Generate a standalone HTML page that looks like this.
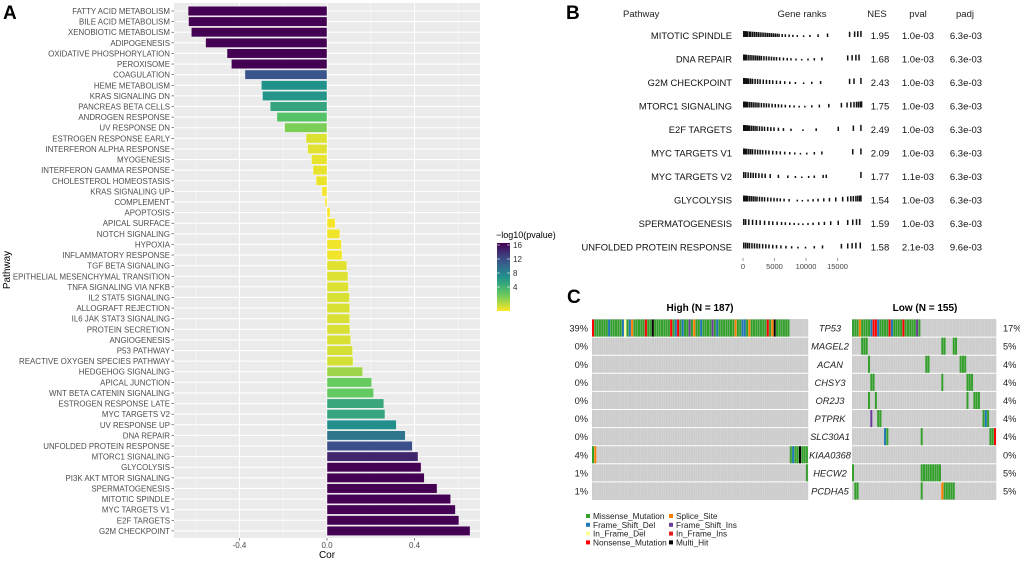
<!DOCTYPE html>
<html><head><meta charset="utf-8"><style>
html,body{margin:0;padding:0;background:#fff;}
svg{display:block;font-family:"Liberation Sans",sans-serif;}
</style></head><body>
<svg id="fig" width="1020" height="561" viewBox="0 0 1020 561"></svg>
<script>
// ---- Panel A data ----
const pathwaysA=["FATTY ACID METABOLISM","BILE ACID METABOLISM","XENOBIOTIC METABOLISM","ADIPOGENESIS","OXIDATIVE PHOSPHORYLATION","PEROXISOME","COAGULATION","HEME METABOLISM","KRAS SIGNALING DN","PANCREAS BETA CELLS","ANDROGEN RESPONSE","UV RESPONSE DN","ESTROGEN RESPONSE EARLY","INTERFERON ALPHA RESPONSE","MYOGENESIS","INTERFERON GAMMA RESPONSE","CHOLESTEROL HOMEOSTASIS","KRAS SIGNALING UP","COMPLEMENT","APOPTOSIS","APICAL SURFACE","NOTCH SIGNALING","HYPOXIA","INFLAMMATORY RESPONSE","TGF BETA SIGNALING","EPITHELIAL MESENCHYMAL TRANSITION","TNFA SIGNALING VIA NFKB","IL2 STAT5 SIGNALING","ALLOGRAFT REJECTION","IL6 JAK STAT3 SIGNALING","PROTEIN SECRETION","ANGIOGENESIS","P53 PATHWAY","REACTIVE OXYGEN SPECIES PATHWAY","HEDGEHOG SIGNALING","APICAL JUNCTION","WNT BETA CATENIN SIGNALING","ESTROGEN RESPONSE LATE","MYC TARGETS V2","UV RESPONSE UP","DNA REPAIR","UNFOLDED PROTEIN RESPONSE","MTORC1 SIGNALING","GLYCOLYSIS","PI3K AKT MTOR SIGNALING","SPERMATOGENESIS","MITOTIC SPINDLE","MYC TARGETS V1","E2F TARGETS","G2M CHECKPOINT"];
const corA=[-0.635,-0.633,-0.62,-0.555,-0.457,-0.437,-0.375,-0.30,-0.295,-0.26,-0.229,-0.194,-0.096,-0.089,-0.071,-0.064,-0.05,-0.023,-0.009,0.014,0.037,0.059,0.066,0.069,0.091,0.096,0.098,0.103,0.104,0.104,0.105,0.108,0.117,0.119,0.163,0.204,0.213,0.26,0.265,0.317,0.358,0.39,0.416,0.43,0.445,0.503,0.565,0.587,0.603,0.654];
const logpA=[16.5,16.5,16.5,16.5,16.5,16.5,12.5,8.9,8.6,7.6,5.6,4.4,2.1,2.0,1.8,1.8,1.7,1.5,1.4,1.4,1.5,1.6,1.6,1.6,2.0,2.1,2.1,2.2,2.2,2.2,2.2,2.2,2.3,2.3,3.6,4.9,5.0,7.4,7.6,9.0,10.6,12.8,14.8,16.5,16.5,16.5,16.5,16.5,16.5,16.5];
const xTicksA=[-0.4,0.0,0.4];
const xTickLabelsA=["-0.4","0.0","0.4"];
const cbarTicks=[16,12,8,4];
// ---- Panel B data ----
const pathwaysB=["MITOTIC SPINDLE","DNA REPAIR","G2M CHECKPOINT","MTORC1 SIGNALING","E2F TARGETS","MYC TARGETS V1","MYC TARGETS V2","GLYCOLYSIS","SPERMATOGENESIS","UNFOLDED PROTEIN RESPONSE"];
const nesB=["1.95","1.68","2.43","1.75","2.49","2.09","1.77","1.54","1.59","1.58"];
const pvalB=["1.0e-03","1.0e-03","1.0e-03","1.0e-03","1.0e-03","1.0e-03","1.1e-03","1.0e-03","1.0e-03","2.1e-03"];
const padjB=["6.3e-03","6.3e-03","6.3e-03","6.3e-03","6.3e-03","6.3e-03","6.3e-03","6.3e-03","6.3e-03","9.6e-03"];
const ranksB=[
"0,0.2,0.4,0.6,0.9,1.1,1.4,1.7,2,2.3,2.6,2.9,3.2,3.5,3.8,4.1,4.4,4.7,5,5.3,5.6,6.1,6.6,7.2,7.8,8.5,9.5,10.5,11.8,13.3,16.8,17.6,18.1,18.6",
"0,0.2,0.4,0.7,1,1.3,1.6,1.9,2.2,2.5,2.8,3.2,3.6,4,4.4,4.8,5.2,5.7,6.3,6.9,7.5,8.3,9.2,10.2,11.2,12.4,16.5,17.2,17.8,18.3",
"0,0.1,0.2,0.4,0.6,0.8,1.1,1.4,1.8,2.2,2.6,3.1,3.6,4.1,4.6,5.2,5.8,6.5,7.3,8.2,9.5,10.8,12.2,16.8,17.5,18.6",
"0,0.2,0.4,0.6,0.9,1.2,1.5,1.8,2.1,2.4,2.8,3.2,3.6,4,4.5,5,5.5,6,6.6,7.3,8,8.8,9.7,10.8,12,13.5,15.5,16.4,17,17.5,17.9,18.2,18.5,18.7",
"0,0.05,0.1,0.2,0.3,0.5,0.7,0.9,1.2,1.5,1.8,2.1,2.5,2.9,3.3,3.8,4.3,4.8,5.5,6.3,7.5,9.4,11.5,15,17.4,18.6",
"0,0.1,0.3,0.5,0.8,1.1,1.4,1.8,2.2,2.6,3,3.5,4,4.6,5.2,5.8,6.5,7.3,8.1,9,10,11.2,12.4,17.3,18.6",
"0,0.3,0.7,1.1,1.5,1.9,2.4,2.9,3.4,4.2,5.5,7,8.2,9.2,10.3,11.2,12.6,13.1,18.6",
"0,0.2,0.4,0.6,0.9,1.2,1.5,1.8,2.1,2.5,2.9,3.3,3.8,4.3,4.8,5.3,5.8,6.4,7.2,8.5,9.3,10.2,11,11.8,12.7,13.6,14.6,15.7,16.5,17,17.4,17.8,18.1,18.4,18.6",
"0,0.3,0.8,1.4,2,2.6,3.3,4,4.6,5.3,6,6.6,7.3,8,8.7,9.4,10.2,11,11.9,12.8,13.8,15,16.5,17.3,17.9,18.4",
"0,0.3,0.6,0.9,1.3,1.7,2.1,2.5,3,3.5,4,4.6,5.2,5.9,6.7,7.6,8.6,9.8,11.2,12.5,15.5,16.5,17.2,17.8,18.5"
];
const rankTicks=[0,5000,10000,15000];
// ---- Panel C data ----
const genesC=["TP53","MAGEL2","ACAN","CHSY3","OR2J3","PTPRK","SLC30A1","KIAA0368","HECW2","PCDHA5"];
const pctHigh=["39%","0%","0%","0%","0%","0%","0%","4%","1%","1%"];
const pctLow=["17%","5%","4%","4%","4%","4%","4%","0%","5%","5%"];
const highMut=[
"NMMMMMMFMMMMMFDMFSMMMMMNMMHMMMMMMMNMFNMFMMIMSMMFMMMMIMFMMMMMMMSMMFFMSMMMMMMMNMSHMMMMMM",
"","","","","","",
"MS",
"",""];
const highMutStart=[0,0,0,0,0,0,0,0,0,2];
const highTail=[[],[],[],[],[],[],[],[[86,"MFMMHMMM"]],[[93,"M"]],[]];
const lowMut=[
[[0,"MMMSMMMMFNNFMMMMNFMMMMNMMMMMIM"]],
[[4,"MMM"],[39,"MM"],[44,"MM"]],
[[7,"M"],[32,"MM"],[47,"MMM"]],
[[8,"MM"],[39,"M"],[50,"MMM"]],
[[7,"M"],[10,"M"],[50,"M"],[53,"MMM"]],
[[8,"I"],[11,"MM"],[57,"MFM"]],
[[14,"FM"],[30,"M"],[60,"MMN"]],
[],
[[0,"M"],[30,"MMMMMMMMM"]],
[[1,"MM"],[30,"M"],[39,"S"],[40,"MMMMM"]]
];
const legendTypes=["Missense_Mutation","Frame_Shift_Del","In_Frame_Del","Nonsense_Mutation","Splice_Site","Frame_Shift_Ins","In_Frame_Ins","Multi_Hit"];
const legendCodes=["M","F","D","N","S","I","J","H"];
const typeColor={M:"#33a02c",S:"#ff7f00",F:"#1f78b4",I:"#6a3d9a",D:"#ffff99",J:"#e31a1c",N:"#ff0000",H:"#000000"};

const NS="http://www.w3.org/2000/svg";
const svgEl=document.getElementById('fig');
function mk(tag,attrs,parent,name,inter){const e=document.createElementNS(NS,tag);for(const k in attrs)e.setAttribute(k,attrs[k]);


(parent||svgEl).appendChild(e);return e;}
function txt(s,attrs,parent,name){const e=mk('text',attrs,parent,name,false);e.textContent=s;return e;}

function viridis(t){const st=[[68,1,84],[59,82,139],[33,145,140],[94,201,98],[253,231,37]];t=Math.max(0,Math.min(1,t));
const p=t*4,i=Math.min(3,Math.floor(p)),f=p-i;const c=st[i].map((v,k)=>Math.round(v+(st[i+1][k]-v)*f));return `rgb(${c.join(',')})`;}
function colA(v){return viridis(1-(v-1.3)/(16.5-1.3));}

// ---- Panel A ----
const gA=mk('g',{},svgEl,'panel-a-bar-chart',false);
txt("A",{x:3,y:19,'font-size':19,'font-weight':'bold'},gA,'panel-a-label');
const pl=174,pr=480,pt=3,pb=538;
const xA=v=>327+v*218.75;
const yA=i=>11+i*10.61;
mk('rect',{x:pl,y:pt,width:pr-pl,height:pb-pt,fill:'#ebebeb'},gA,'plot-background',false);
[-0.6,-0.2,0.2,0.6].forEach(v=>mk('line',{x1:xA(v),x2:xA(v),y1:pt,y2:pb,stroke:'#f7f7f7','stroke-width':0.6},gA,'minor-gridline',false));
xTicksA.forEach(v=>mk('line',{x1:xA(v),x2:xA(v),y1:pt,y2:pb,stroke:'#fff','stroke-width':1.1},gA,'major-gridline',false));
pathwaysA.forEach((p,i)=>mk('line',{x1:pl,x2:pr,y1:yA(i),y2:yA(i),stroke:'#fff','stroke-width':1.1},gA,'y-gridline',false));
pathwaysA.forEach((p,i)=>{const v=corA[i];const x0=Math.min(xA(0),xA(v));
mk('rect',{x:x0,y:yA(i)-4.7,width:Math.abs(xA(v)-xA(0)),height:9.4,fill:colA(logpA[i]),stroke:'#fff','stroke-width':0.4},gA,'bar-'+p.toLowerCase().replace(/ /g,'-'),true);
txt(p,{x:170,y:yA(i)+3,'font-size':7.9,'text-anchor':'end',fill:'#4d4d4d'},gA,'y-tick-label');
mk('line',{x1:171.5,x2:174,y1:yA(i),y2:yA(i),stroke:'#333','stroke-width':0.6},gA,'y-tick',false);});
xTicksA.forEach((v,i)=>{mk('line',{x1:xA(v),x2:xA(v),y1:pb,y2:pb+2.5,stroke:'#333','stroke-width':0.6},gA,'x-tick',false);
txt(xTickLabelsA[i],{x:xA(v),y:pb+10,'font-size':8,'text-anchor':'middle',fill:'#4d4d4d'},gA,'x-tick-label');});
txt("Cor",{x:327,y:pb+20,'font-size':10,'text-anchor':'middle'},gA,'x-axis-title');
txt("Pathway",{x:0,y:0,'font-size':10,'text-anchor':'middle',transform:'translate(10,270) rotate(-90)'},gA,'y-axis-title');
const defsEl=mk('defs',{},svgEl,'defs',false);
const lg=mk('linearGradient',{id:'vir',x1:0,y1:1,x2:0,y2:0},defsEl,'colorbar-gradient',false);
for(let k=0;k<=10;k++){mk('stop',{offset:k/10,'stop-color':viridis(1-k/10)},lg,'gradient-stop',false);}
txt("\u2212log10(pvalue)",{x:496,y:238,'font-size':9},gA,'legend-title');
mk('rect',{x:497,y:243,width:13,height:68,fill:'url(#vir)'},gA,'colorbar',false);
const cbY=v=>287-(v-4)*3.5;
cbarTicks.forEach(v=>{mk('line',{x1:497,x2:500,y1:cbY(v),y2:cbY(v),stroke:'#fff','stroke-width':0.6},gA,'colorbar-tick',false);
mk('line',{x1:507,x2:510,y1:cbY(v),y2:cbY(v),stroke:'#fff','stroke-width':0.6},gA,'colorbar-tick',false);
txt(String(v),{x:513,y:cbY(v)+3,'font-size':8,fill:'#333'},gA,'colorbar-label');});

// ---- Panel B ----
const gB=mk('g',{},svgEl,'panel-b-gsea-table',false);
txt("B",{x:566,y:19,'font-size':19,'font-weight':'bold'},gB,'panel-b-label');
txt("Pathway",{x:623,y:17,'font-size':9.5,fill:'#222'},gB,'header-pathway');
txt("Gene ranks",{x:802,y:17,'font-size':9.5,'text-anchor':'middle',fill:'#222'},gB,'header-gene-ranks');
txt("NES",{x:877,y:17,'font-size':9.5,'text-anchor':'middle',fill:'#222'},gB,'header-nes');
txt("pval",{x:918,y:17,'font-size':9.5,'text-anchor':'middle',fill:'#222'},gB,'header-pval');
txt("padj",{x:965,y:17,'font-size':9.5,'text-anchor':'middle',fill:'#222'},gB,'header-padj');
const xR=r=>743+r*0.0063;
const yB=i=>35+i*23.5;
pathwaysB.forEach((p,i)=>{const y=yB(i);
txt(p,{x:732,y:y+4,'font-size':9.4,'text-anchor':'end',fill:'#111'},gB,'pathway-label');
ranksB[i].split(',').map(Number).forEach(r=>{const h=1.5+4.5*Math.abs(r-9.2)/9.2;
mk('rect',{x:xR(r*1000),y:y+2-h,width:1.5,height:h,fill:'#111'},gB,'gene-rank-tick',false);});
txt(nesB[i],{x:880,y:y+4,'font-size':9.5,'text-anchor':'middle',fill:'#111'},gB,'nes-value');
txt(pvalB[i],{x:918,y:y+4,'font-size':9.5,'text-anchor':'middle',fill:'#111'},gB,'pval-value');
txt(padjB[i],{x:966,y:y+4,'font-size':9.5,'text-anchor':'middle',fill:'#111'},gB,'padj-value');});
rankTicks.forEach(r=>{mk('line',{x1:xR(r),x2:xR(r),y1:258,y2:261,stroke:'#555','stroke-width':0.6},gB,'rank-tick',false);
txt(String(r),{x:xR(r),y:269,'font-size':7.5,'text-anchor':'middle',fill:'#444'},gB,'rank-tick-label');});

// ---- Panel C ----
const gC=mk('g',{},svgEl,'panel-c-oncoplot',false);
txt("C",{x:567,y:303,'font-size':19,'font-weight':'bold'},gC,'panel-c-label');
txt("High (N = 187)",{x:700,y:311,'font-size':10,'font-weight':'bold','text-anchor':'middle'},gC,'high-group-title');
txt("Low (N = 155)",{x:925,y:311,'font-size':10,'font-weight':'bold','text-anchor':'middle'},gC,'low-group-title');
const topC=319,rowH=18.1;
const hx0=592,hw=2.3,hN=94,lx0=852,lw=2.29,lN=63;
function grid(x0,w,n,name){mk('rect',{x:x0,y:topC,width:w*n,height:rowH*10,fill:'#cccccc'},gC,name,false);
for(let c=1;c<n;c++)mk('line',{x1:x0+c*w,x2:x0+c*w,y1:topC,y2:topC+rowH*10,stroke:'#d9d9d9','stroke-width':0.5},gC,'column-separator',false);
for(let r=1;r<10;r++)mk('line',{x1:x0,x2:x0+w*n,y1:topC+r*rowH,y2:topC+r*rowH,stroke:'#fff','stroke-width':1},gC,'row-separator',false);}
grid(hx0,hw,hN,'high-matrix');grid(lx0,lw,lN,'low-matrix');
function cells(x0,w,row,start,str){for(let k=0;k<str.length;k++){mk('rect',{x:x0+(start+k)*w,y:topC+row*rowH+0.5,width:w-0.3,height:rowH-1,fill:typeColor[str[k]]},gC,'mutation-cell',true);}}
genesC.forEach((g,r)=>{if(highMut[r])cells(hx0,hw,r,highMutStart[r],highMut[r]);
highTail[r].forEach(s=>cells(hx0,hw,r,s[0],s[1]));
lowMut[r].forEach(s=>cells(lx0,lw,r,s[0],s[1]));
const yc=topC+r*rowH+rowH/2+3.5;
txt(g,{x:830,y:yc,'font-size':9.3,'font-style':'italic','text-anchor':'middle',fill:'#222'},gC,'gene-label');
txt(pctHigh[r],{x:588,y:yc,'font-size':9.3,'text-anchor':'end',fill:'#222'},gC,'high-percent');
txt(pctLow[r],{x:1003,y:yc,'font-size':9.3,fill:'#222'},gC,'low-percent');});
legendTypes.forEach((t,i)=>{const col=Math.floor(i/4),row=i%4;const x=col?669:586,y=517+row*8.8;
mk('rect',{x:x,y:y-3,width:4,height:4,fill:typeColor[legendCodes[i]]},gC,'legend-swatch',false);
txt(t,{x:x+7,y:y+2,'font-size':8.3,fill:'#222'},gC,'legend-entry');});
</script>
</body></html>
